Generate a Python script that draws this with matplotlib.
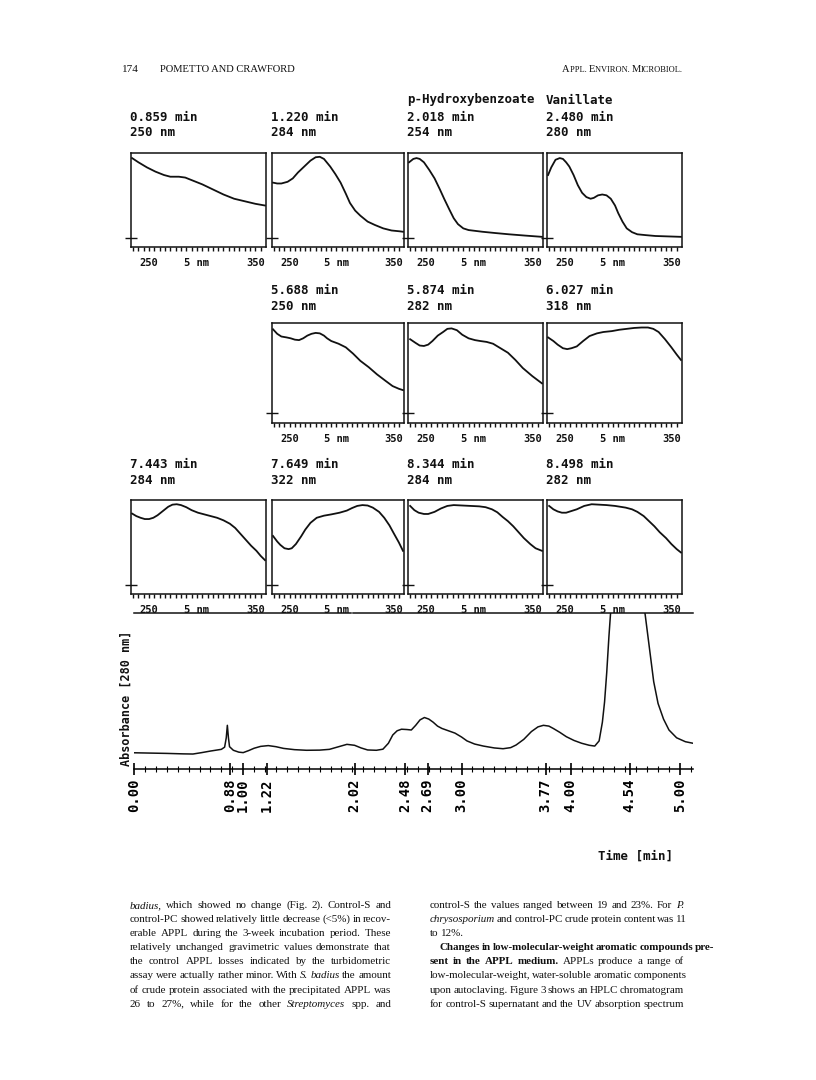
import numpy as np
import matplotlib
matplotlib.use('Agg')
import matplotlib.pyplot as plt

W, H = 816, 1080
fig = plt.figure(figsize=(W / 100, H / 100), dpi=100)
fig.patch.set_facecolor('white')

MONO = 'DejaVu Sans Mono'
SERIF = 'Liberation Serif'
INK = '#111111'

# --- UV spectra (nm, relative absorbance) ---
nm_0859 = [234, 240, 248, 256, 264, 270, 278, 284, 292, 300, 310, 320, 330, 340, 350, 359]
ab_0859 = [0.94, 0.89, 0.83, 0.78, 0.74, 0.72, 0.72, 0.71, 0.67, 0.63, 0.57, 0.51, 0.46, 0.43, 0.40, 0.38]

nm_1220 = [234, 238, 242, 248, 253, 258, 264, 270, 275, 279, 283, 289, 294, 299, 304, 308, 313, 318, 325, 332, 340, 348, 356, 359]
ab_1220 = [0.65, 0.64, 0.64, 0.66, 0.70, 0.77, 0.84, 0.91, 0.95, 0.955, 0.93, 0.84, 0.75, 0.65, 0.52, 0.41, 0.32, 0.26, 0.19, 0.15, 0.11, 0.085, 0.075, 0.07]

nm_2018 = [234, 238, 241, 244, 248, 253, 258, 263, 267, 272, 276, 280, 285, 290, 303, 315, 328, 343, 359]
ab_2018 = [0.89, 0.93, 0.94, 0.93, 0.89, 0.80, 0.70, 0.57, 0.46, 0.33, 0.23, 0.16, 0.11, 0.09, 0.07, 0.055, 0.04, 0.025, 0.01]

nm_2480 = [234, 237, 241, 245, 248, 251, 254, 258, 262, 266, 270, 274, 277, 281, 285, 289, 293, 297, 300, 304, 308, 313, 318, 326, 335, 359]
ab_2480 = [0.74, 0.83, 0.92, 0.94, 0.93, 0.89, 0.84, 0.74, 0.62, 0.53, 0.48, 0.46, 0.47, 0.50, 0.51, 0.50, 0.46, 0.38, 0.29, 0.19, 0.11, 0.065, 0.04, 0.03, 0.02, 0.01]

nm_5688 = [234, 238, 242, 247, 251, 255, 259, 263, 267, 271, 275, 279, 283, 286, 290, 297, 304, 311, 318, 326, 334, 342, 349, 355, 359]
ab_5688 = [0.93, 0.88, 0.85, 0.84, 0.83, 0.815, 0.81, 0.83, 0.86, 0.88, 0.89, 0.885, 0.86, 0.83, 0.80, 0.77, 0.73, 0.66, 0.58, 0.51, 0.43, 0.36, 0.30, 0.27, 0.255]

nm_5874 = [235, 240, 244, 248, 252, 256, 261, 266, 270, 274, 279, 284, 290, 296, 301, 307, 313, 320, 327, 334, 341, 350, 359]
ab_5874 = [0.82, 0.78, 0.75, 0.745, 0.76, 0.80, 0.86, 0.90, 0.935, 0.94, 0.92, 0.87, 0.83, 0.81, 0.80, 0.79, 0.77, 0.72, 0.67, 0.59, 0.50, 0.41, 0.33]

nm_6027 = [234, 239, 243, 248, 252, 256, 261, 267, 273, 280, 286, 294, 301, 308, 315, 322, 328, 333, 338, 344, 350, 355, 359]
ab_6027 = [0.84, 0.80, 0.76, 0.72, 0.71, 0.72, 0.74, 0.80, 0.855, 0.885, 0.90, 0.91, 0.925, 0.935, 0.945, 0.95, 0.95, 0.935, 0.90, 0.82, 0.73, 0.65, 0.59]

nm_7443 = [234, 238, 242, 246, 250, 254, 258, 263, 268, 272, 276, 280, 285, 290, 296, 302, 308, 314, 320, 326, 331, 336, 341, 346, 351, 355, 359]
ab_7443 = [0.84, 0.81, 0.79, 0.775, 0.775, 0.79, 0.82, 0.87, 0.92, 0.945, 0.95, 0.94, 0.915, 0.88, 0.85, 0.83, 0.81, 0.79, 0.76, 0.72, 0.67, 0.60, 0.53, 0.46, 0.40, 0.34, 0.29]

nm_7649 = [234, 238, 241, 245, 249, 252, 256, 261, 265, 270, 276, 283, 290, 298, 305, 310, 315, 320, 325, 330, 336, 341, 346, 350, 355, 359]
ab_7649 = [0.575, 0.51, 0.47, 0.43, 0.42, 0.43, 0.48, 0.57, 0.65, 0.73, 0.79, 0.815, 0.83, 0.85, 0.875, 0.905, 0.93, 0.94, 0.935, 0.91, 0.86, 0.79, 0.70, 0.61, 0.50, 0.40]

nm_8344 = [235, 239, 243, 248, 252, 258, 264, 270, 276, 284, 292, 300, 306, 312, 317, 322, 327, 332, 337, 342, 348, 353, 359]
ab_8344 = [0.93, 0.88, 0.85, 0.835, 0.835, 0.86, 0.90, 0.93, 0.94, 0.935, 0.93, 0.925, 0.915, 0.89, 0.855, 0.80, 0.75, 0.69, 0.62, 0.55, 0.48, 0.43, 0.40]

nm_8498 = [235, 239, 243, 247, 251, 256, 261, 268, 275, 282, 289, 297, 307, 313, 318, 324, 329, 334, 339, 345, 350, 355, 359]
ab_8498 = [0.93, 0.89, 0.865, 0.85, 0.85, 0.87, 0.89, 0.93, 0.95, 0.945, 0.94, 0.93, 0.91, 0.89, 0.86, 0.81, 0.75, 0.69, 0.62, 0.55, 0.48, 0.42, 0.38]

spec_names = ['', '', 'p-Hydroxybenzoate', 'Vanillate', '', '', '', '', '', '', '']
spec_times = ['0.859', '1.220', '2.018', '2.480', '5.688', '5.874', '6.027',
              '7.443', '7.649', '8.344', '8.498']
spec_waves = [250, 284, 254, 280, 250, 282, 318, 284, 322, 284, 282]
spec_nm = [nm_0859, nm_1220, nm_2018, nm_2480, nm_5688, nm_5874, nm_6027,
           nm_7443, nm_7649, nm_8344, nm_8498]
spec_ab = [ab_0859, ab_1220, ab_2018, ab_2480, ab_5688, ab_5874, ab_6027,
           ab_7443, ab_7649, ab_8344, ab_8498]

# --- HPLC chromatogram (min, relative absorbance at 280 nm) ---
chrom_t = [0.00, 0.15, 0.30, 0.45, 0.54, 0.62, 0.70, 0.80, 0.83, 0.845, 0.855, 0.865, 0.875,
           0.91, 0.96, 1.00, 1.05, 1.10, 1.16, 1.23, 1.30, 1.37, 1.47, 1.58, 1.70, 1.79,
           1.87, 1.95, 2.02, 2.08, 2.14, 2.22, 2.28, 2.33, 2.37, 2.41, 2.45, 2.50, 2.54,
           2.58, 2.62, 2.66, 2.70, 2.74, 2.78, 2.82, 2.88, 2.94, 3.00, 3.05, 3.12, 3.20,
           3.30, 3.38, 3.45, 3.50, 3.57, 3.64, 3.70, 3.75, 3.80, 3.84, 3.90, 3.96, 4.03,
           4.10, 4.17, 4.22, 4.26, 4.29, 4.31, 4.33, 4.35, 4.37, 4.42, 4.50, 4.58, 4.65,
           4.68, 4.72, 4.76, 4.80, 4.85, 4.90, 4.97, 5.05, 5.12]
chrom_a = [0.104, 0.102, 0.100, 0.097, 0.096, 0.105, 0.115, 0.126, 0.140, 0.200, 0.280, 0.200, 0.143,
           0.120, 0.108, 0.105, 0.118, 0.133, 0.145, 0.150, 0.143, 0.132, 0.124, 0.120, 0.121, 0.126,
           0.142, 0.158, 0.152, 0.135, 0.122, 0.120, 0.127, 0.165, 0.218, 0.245, 0.255, 0.253, 0.250,
           0.280, 0.315, 0.330, 0.320, 0.300, 0.275, 0.260, 0.245, 0.230, 0.205, 0.180, 0.160, 0.147,
           0.135, 0.130, 0.137, 0.154, 0.190, 0.240, 0.270, 0.280, 0.275, 0.260, 0.235, 0.207, 0.183,
           0.165, 0.152, 0.147, 0.180, 0.300, 0.430, 0.620, 0.850, 1.050, 1.500, 1.700, 1.550, 1.150,
           1.000, 0.780, 0.560, 0.420, 0.320, 0.250, 0.200, 0.175, 0.165]
peak_labels = [0.00, 0.88, 1.00, 1.22, 2.02, 2.48, 2.69, 3.00, 3.77, 4.00, 4.54, 5.00]

# panel positions in pixels (left, right) and rows (top, bottom, title y)
cols = [(131, 266), (272, 404), (408, 543), (547, 682)]
rows = [(153, 247, 117), (323, 423, 290), (500, 594, 464)]
slots = [(0, 0), (0, 1), (0, 2), (0, 3), (1, 1), (1, 2), (1, 3),
         (2, 0), (2, 1), (2, 2), (2, 3)]


def px_axes(l, t, r, b):
    return fig.add_axes([l / W, 1 - b / H, (r - l) / W, (b - t) / H])


def ftext(x, y, s, **kw):
    return fig.text(x / W, 1 - y / H, s, **kw)


for i, (ri, ci) in enumerate(slots):
    l, r = cols[ci]
    t, b, ty = rows[ri]
    ax = px_axes(l, t, r, b)
    ax.plot(spec_nm[i], spec_ab[i], color=INK, lw=1.3, solid_joinstyle='round')
    ax.set_xlim(233, 360)
    ax.set_ylim(-0.11, 1.0)
    for sp in ax.spines.values():
        sp.set_linewidth(1.1)
        sp.set_color(INK)
    ax.set_xticks(np.arange(235, 360, 5))
    ax.set_yticks([0])
    ax.tick_params(axis='x', direction='out', length=3, width=1, colors=INK, labelbottom=False)
    ax.tick_params(axis='y', direction='inout', length=9, width=1, colors=INK, labelleft=False)
    for xv, lab in [(250, '250'), (295, '5 nm'), (350, '350')]:
        ax.text(xv, -0.115, lab, transform=ax.get_xaxis_transform(), ha='center', va='top',
                fontsize=7.5, family=MONO, weight='bold', color=INK)
    ftext(l - 1, ty, spec_times[i] + ' min', fontsize=9, family=MONO, weight='bold',
          va='center', ha='left', color=INK)
    ftext(l - 1, ty + 16, '%d nm' % spec_waves[i], fontsize=9, family=MONO, weight='bold',
          va='center', ha='left', color=INK)
    if spec_names[i]:
        ftext(l - 1, ty - 17, spec_names[i], fontsize=9, family=MONO, weight='bold',
              va='center', ha='left', color=INK)

# chromatogram
cx = px_axes(134, 613, 693, 769)
cx.plot(chrom_t, chrom_a, color=INK, lw=1.1)
cx.set_xlim(0, 5.12)
cx.set_ylim(0, 1.0)
for side in ['top', 'left', 'right']:
    cx.spines[side].set_visible(False)
cx.spines['bottom'].set_linewidth(1.1)
cx.set_yticks([])
cx.set_xticks(peak_labels)
cx.set_xticklabels(['%.2f' % v for v in peak_labels])
cx.set_xticks(np.arange(0.1, 5.11, 0.1), minor=True)
cx.tick_params(axis='x', which='major', direction='inout', length=9, width=1.2, pad=2,
               labelrotation=90, labelsize=10)
cx.tick_params(axis='x', which='minor', direction='inout', length=4, width=0.8)
for lab in cx.get_xticklabels():
    lab.set_family(MONO)
    lab.set_weight('bold')
cx.plot([0.0, 1.99], [1.0, 1.0], color=INK, lw=1.1, clip_on=False)
cx.plot([2.01, 5.12], [1.0, 1.0], color=INK, lw=1.1, clip_on=False)
ftext(126, 766, 'Absorbance [280 nm]', rotation=90, ha='center', va='bottom',
      fontsize=8.5, family=MONO, weight='bold', color=INK)
ftext(673, 856, 'Time [min]', ha='right', va='center', fontsize=9, family=MONO,
      weight='bold', color=INK)

# page header and body text
renderer = fig.canvas.get_renderer()


def run_text(runs, x, y, ha='left'):
    objs = []
    for s, size, style in runs:
        kw = dict(fontsize=size, family=SERIF, va='baseline', ha='left', color=INK)
        objs.append(ftext(0, y, s, **kw))
    widths = [o.get_window_extent(renderer).width for o in objs]
    x0 = x - sum(widths) if ha == 'right' else x
    for o, w in zip(objs, widths):
        o.set_x(x0 / W)
        x0 += w


ftext(122, 72, '174', fontsize=8, family=SERIF, va='baseline', color=INK)
ftext(160, 72, 'POMETTO AND CRAWFORD', fontsize=7.6, family=SERIF, va='baseline', color=INK)
run_text([('A', 7.6, ''), ('PPL. ', 6.0, ''), ('E', 7.6, ''), ('NVIRON. ', 6.0, ''),
          ('M', 7.6, ''), ('ICROBIOL.', 6.0, '')], 683, 72, ha='right')


def draw_line(segs, x0, x1, y, size=7.9, justify=True):
    words = []
    for s, style in segs:
        for w in s.split():
            words.append((w, style))
    objs = []
    for w, style in words:
        kw = dict(fontsize=size, family=SERIF, va='baseline', ha='left', color=INK)
        if style == 'i':
            kw['style'] = 'italic'
        if style == 'b':
            kw['weight'] = 'bold'
        objs.append(ftext(0, y, w, **kw))
    widths = [o.get_window_extent(renderer).width for o in objs]
    gap = size * 1.389 * 0.25
    if justify and len(objs) > 1:
        gap = max(1.6, (x1 - x0 - sum(widths)) / (len(objs) - 1))
    x = x0
    for o, w in zip(objs, widths):
        o.set_x(x / W)
        x += w + gap


left_lines = [
    [('badius,', 'i'), ('which showed no change (Fig. 2). Control-S and', '')],
    [('control-PC showed relatively little decrease (<5%) in recov-', '')],
    [('erable APPL during the 3-week incubation period. These', '')],
    [('relatively unchanged gravimetric values demonstrate that', '')],
    [('the control APPL losses indicated by the turbidometric', '')],
    [('assay were actually rather minor. With', ''), ('S. badius', 'i'), ('the amount', '')],
    [('of crude protein associated with the precipitated APPL was', '')],
    [('26 to 27%, while for the other', ''), ('Streptomyces', 'i'), ('spp. and', '')],
]
right_lines = [
    [('control-S the values ranged between 19 and 23%. For', ''), ('P.', 'i')],
    [('chrysosporium', 'i'), ('and control-PC crude protein content was 11', '')],
    [('to 12%.', '')],
    [('Changes in low-molecular-weight aromatic compounds pre-', 'b')],
    [('sent in the APPL medium.', 'b'), ('APPLs produce a range of', '')],
    [('low-molecular-weight, water-soluble aromatic components', '')],
    [('upon autoclaving. Figure 3 shows an HPLC chromatogram', '')],
    [('for control-S supernatant and the UV absorption spectrum', '')],
]
for k, segs in enumerate(left_lines):
    draw_line(segs, 130, 391, 908 + k * 14.1)
for k, segs in enumerate(right_lines):
    x0 = 440 if k == 3 else 430
    draw_line(segs, x0, 684, 908 + k * 14.1, justify=(k != 2))

fig.savefig('out.png', dpi=100, facecolor='white')
